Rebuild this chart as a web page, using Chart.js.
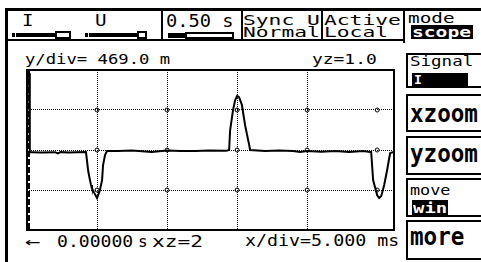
<!DOCTYPE html>
<html lang="en">
<head>
    <meta charset="UTF-8">
    <script src="https://cdn.jsdelivr.net/npm/chart.js"></script>
    <title>Scope</title>
    <style>
        body {
            margin: 0;
            width: 481px;
            height: 262px;
            overflow: hidden;
            background: #fff;
            position: relative;
            font-family: "DejaVu Sans Mono", monospace;
            color: #000;
        }
        #scope {
            position: absolute;
            left: 0;
            top: 0;
        }
        .abs {
            position: absolute;
            white-space: pre;
            line-height: 1;
            transform-origin: 0 0;
        }
        .blk { position: absolute; background: #000; }
        .box {
            position: absolute;
            border: 2px solid #000;
            background: #fff;
        }
        .inv { background: #000; color: #fff; }
        .btn { font-weight: bold; }
    </style>
</head>
<body>

<!-- frame of the top bar -->
<div class="blk" style="left:5px;top:8px;width:476px;height:3px"></div>
<div class="blk" style="left:5px;top:8px;width:3px;height:254px"></div>
<div class="blk" style="left:5px;top:39px;width:400px;height:2px"></div>
<div class="blk" style="left:161px;top:10px;width:2px;height:31px"></div>
<div class="blk" style="left:241px;top:10px;width:2px;height:31px"></div>
<div class="blk" style="left:321px;top:10px;width:2px;height:31px"></div>
<div class="blk" style="left:403px;top:10px;width:2px;height:33px"></div>

<!-- I / U sliders -->
<div class="abs" style="left:22px;top:13px;font-size:16px;transform:scaleX(1.2)">I</div>
<div class="abs" style="left:95px;top:13px;font-size:16px;transform:scaleX(1.2)">U</div>
<div class="blk" style="left:12px;top:33px;width:3px;height:4px"></div>
<div class="blk" style="left:16px;top:33px;width:40px;height:4px"></div>
<div class="box" style="left:55px;top:31px;width:12px;height:4px"></div>
<div class="blk" style="left:85px;top:33px;width:3px;height:4px"></div>
<div class="blk" style="left:89px;top:33px;width:48px;height:4px"></div>
<div class="box" style="left:137px;top:31px;width:6px;height:4px"></div>

<div class="abs" style="left:166px;top:13px;font-size:17px;transform:scaleX(1.1)">0.50 s</div>
<div class="blk" style="left:168px;top:33px;width:18px;height:5px"></div>
<div class="box" style="left:185px;top:32px;width:45px;height:3px"></div>

<div class="abs" style="left:243px;top:13px;font-size:14px;transform:scaleX(1.52)">Sync U</div>
<div class="abs" style="left:243px;top:25px;font-size:14px;transform:scaleX(1.52)">Normal</div>
<div class="abs" style="left:324px;top:13px;font-size:14px;transform:scaleX(1.52)">Active</div>
<div class="abs" style="left:324px;top:25px;font-size:14px;transform:scaleX(1.52)">Local</div>
<div class="abs" style="left:408px;top:11px;font-size:14px;transform:scaleX(1.38)">mode</div>
<div class="blk" style="left:411px;top:25px;width:62px;height:14px"></div>
<div class="abs btn" style="left:412px;top:25px;font-size:14px;color:#fff;transform:scaleX(1.4)">scope</div>

<!-- labels above / below the plot -->
<div class="abs" style="left:25px;top:52px;font-size:14px;transform:scaleX(1.23)">y/div= 469.0 m</div>
<div class="abs" style="left:312px;top:52px;font-size:14px;transform:scaleX(1.28)">yz=1.0</div>
<div class="abs" style="left:25px;top:234px;font-size:16px;transform:scaleX(1.6)">&larr;</div>
<div class="abs" style="left:57px;top:234px;font-size:16px;transform:scaleX(1.13)">0.00000</div>
<div class="abs" style="left:138px;top:234px;font-size:16px">s</div>
<div class="abs" style="left:152px;top:234px;font-size:16px;transform:scaleX(1.32)">xz=2</div>
<div class="abs" style="left:245px;top:234px;font-size:15px;transform:scaleX(1.22)">x/div=5.000 ms</div>

<!-- soft keys on the right -->
<div class="box" style="left:406px;top:53px;width:90px;height:31px"></div>
<div class="abs" style="left:410px;top:54px;font-size:14px;transform:scaleX(1.25)">Signal</div>
<div class="blk" style="left:412px;top:73px;width:56px;height:14px"></div>
<div class="abs btn" style="left:414px;top:73px;font-size:13px;color:#fff">I</div>
<div class="box" style="left:406px;top:94px;width:90px;height:34px"></div>
<div class="abs btn" style="left:410px;top:102px;font-size:24px;transform:scaleX(0.94)">xzoom</div>
<div class="box" style="left:406px;top:136px;width:90px;height:35px"></div>
<div class="abs btn" style="left:410px;top:142px;font-size:24px;transform:scaleX(0.94)">yzoom</div>
<div class="box" style="left:406px;top:178px;width:90px;height:35px"></div>
<div class="abs" style="left:410px;top:183px;font-size:14px;transform:scaleX(1.2)">move</div>
<div class="blk" style="left:412px;top:200px;width:36px;height:15px"></div>
<div class="abs btn" style="left:413px;top:201px;font-size:14px;color:#fff;transform:scaleX(1.35)">win</div>
<div class="box" style="left:406px;top:220px;width:90px;height:36px"></div>
<div class="abs btn" style="left:410px;top:225px;font-size:24px;transform:scaleX(0.94)">more</div>

<canvas id="scope" width="481" height="262"></canvas>

<script>
    // trace: time in ms, signal in V
    const timeMs = [0, 0.15, 0.2, 0.4, 1.0, 2.0, 2.2, 2.4, 3.0, 3.5, 4.21, 4.36, 4.43, 4.57, 4.64, 4.79,
        5.0, 5.21, 5.36, 5.43, 5.57, 5.71, 6.5, 7.5, 8.9, 10.0, 11.0, 12.0, 13.0, 14.2,
        14.43, 14.5, 14.71, 14.86, 15.0, 15.14, 15.34, 15.57, 15.86, 15.93,
        17.0, 18.0, 19.0, 19.5, 20.0, 21.0, 22.0, 23.0, 24.0, 24.5,
        24.57, 24.71, 24.86, 25.0, 25.14, 25.29, 25.5, 25.71, 25.86, 25.93, 26.2];
    const signalV = [0.93, 0.9, -0.025, -0.025, -0.03, -0.025, -0.04, -0.025, -0.03, -0.025, -0.023, -0.235, -0.3, -0.41, -0.45, -0.5,
        -0.563, -0.469, -0.352, -0.176, -0.059, -0.012, -0.012, -0.006, -0.023, -0.006, -0.012, -0.012, -0.006, -0.01,
        0, 0.23, 0.47, 0.586, 0.633, 0.62, 0.53, 0.29, 0.06, 0,
        -0.012, -0.006, -0.012, -0.023, -0.012, -0.02, -0.012, -0.023, -0.012, -0.023,
        -0.023, -0.352, -0.445, -0.53, -0.563, -0.54, -0.41, -0.235, -0.094, -0.035, -0.023];

    const msPerDiv = 5;
    const voltsPerDiv = 0.469;
    const xSpan = 26.2;

    // plot frame, minor ticks on the left edge and the little circles on the grid
    const framePlugin = {
        id: 'frame',
        afterDraw(chart) {
            const ctx = chart.ctx;
            const a = chart.chartArea;
            const xs = chart.scales.x, ys = chart.scales.y;
            ctx.save();
            ctx.strokeStyle = '#000';
            ctx.lineWidth = 2;
            ctx.strokeRect(a.left, a.top, a.right - a.left, a.bottom - a.top);
            // minor ticks
            for (let v = ys.min; v < ys.max - 1e-6; v += voltsPerDiv / 5) {
                const y0 = ys.getPixelForValue(v);
                const y1 = ys.getPixelForValue(v + voltsPerDiv / 5);
                ctx.beginPath();
                ctx.moveTo(a.left + 2, y0 - 1);
                ctx.lineTo(a.left + 2, y1 + 1);
                ctx.stroke();
            }
            ctx.lineWidth = 1;
            for (let i = 1; i * msPerDiv < xSpan; i++) {
                for (let j = -1; j <= 1; j++) {
                    ctx.beginPath();
                    ctx.arc(xs.getPixelForValue(i * msPerDiv), ys.getPixelForValue(j * voltsPerDiv), 2, 0, Math.PI * 2);
                    ctx.stroke();
                }
            }
            ctx.restore();
        }
    };

    new Chart(document.getElementById('scope'), {
        type: 'line',
        data: {
            datasets: [{
                data: timeMs.map((t, i) => ({x: t, y: signalV[i]})),
                borderColor: '#000',
                borderWidth: 2,
                pointRadius: 0,
                tension: 0,
                fill: false
            }]
        },
        options: {
            responsive: false,
            animation: false,
            layout: {padding: {left: 27, top: 70, right: 87, bottom: 32}},
            plugins: {legend: {display: false}, tooltip: {enabled: false}},
            scales: {
                x: {
                    type: 'linear',
                    min: 0,
                    max: xSpan,
                    ticks: {display: false, stepSize: msPerDiv},
                    grid: {color: '#000', lineWidth: 1, drawTicks: false},
                    border: {display: false, dash: [1, 1]}
                },
                y: {
                    min: -2 * voltsPerDiv,
                    max: 2 * voltsPerDiv,
                    ticks: {display: false, stepSize: voltsPerDiv},
                    grid: {color: '#000', lineWidth: 1, drawTicks: false},
                    border: {display: false, dash: [1, 1]}
                }
            }
        },
        plugins: [framePlugin]
    });
</script>
</body>
</html>
